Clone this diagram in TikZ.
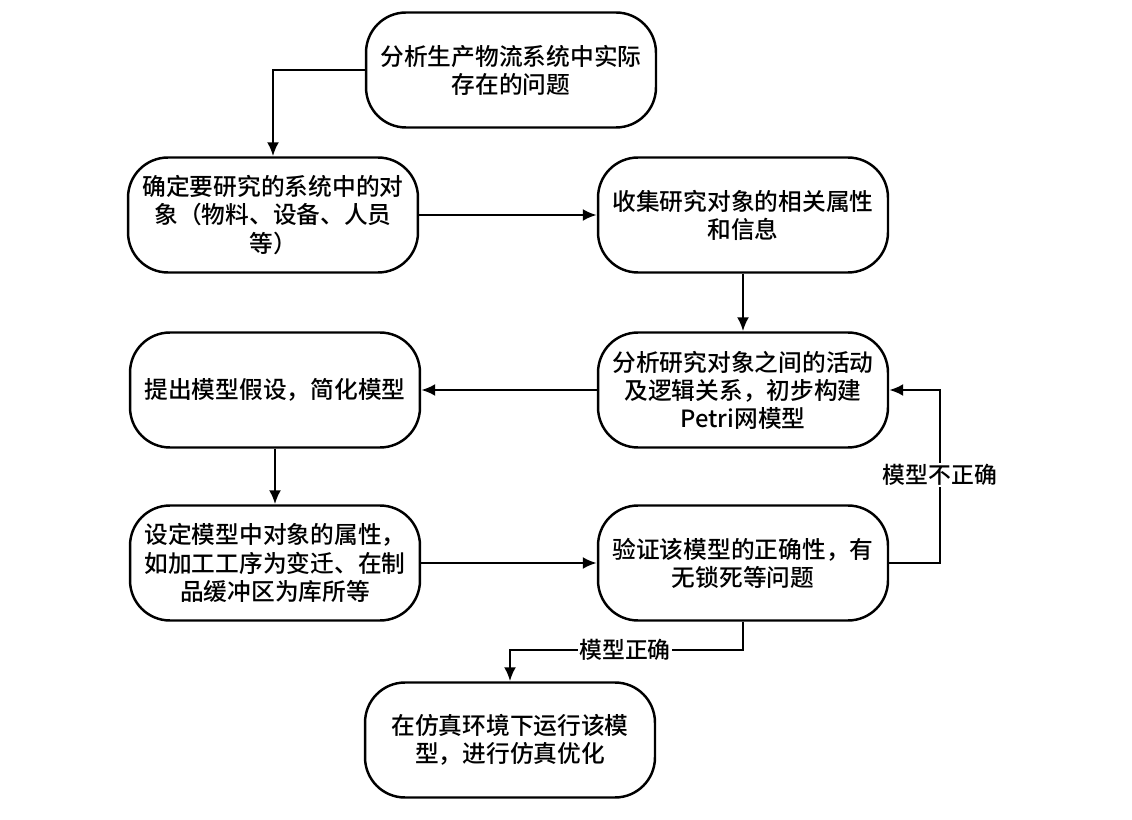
\documentclass[tikz,border=0pt]{standalone}
\usepackage{fontspec}
\setmainfont{Noto Sans CJK SC}[BoldFont={Noto Sans CJK SC Medium}]
\usetikzlibrary{arrows.meta}
\tikzset{
    box/.style={draw, line width=1.4pt, rounded corners=0.8cm, minimum width=5.8cm, minimum height=2.3cm, align=center, font=\fontsize{13.5}{16}\selectfont\bfseries},
    lbl/.style={fill=white, inner sep=1pt, font=\fontsize{13}{15}\selectfont\bfseries},
    link/.style={->, line width=1.4pt}
}
\begin{document}
\begin{tikzpicture}[>={Latex[length=2.8mm,width=2.4mm]}, x=0.02cm, y=-0.02cm]
    \useasboundingbox (0,0) rectangle (1132,820);
    \node[box] (p1) at (511,70) {分析生产物流系统中实际\\存在的问题};
    \node[box] (p2) at (273,215) {确定要研究的系统中的对\\象（物料、设备、人员\\等）};
    \node[box] (p3) at (743,215) {收集研究对象的相关属性\\和信息};
    \node[box] (p4) at (743,390) {分析研究对象之间的活动\\及逻辑关系，初步构建\\Petri网模型};
    \node[box] (p5) at (275,390) {提出模型假设，简化模型};
    \node[box] (p6) at (275,563) {设定模型中对象的属性，\\如加工工序为变迁、在制\\品缓冲区为库所等};
    \node[box] (p7) at (743,563) {验证该模型的正确性，有\\无锁死等问题};
    \node[box] (p8) at (510,740) {在仿真环境下运行该模\\型，进行仿真优化};
    \coordinate (back) at (940,475);
    \coordinate (ok) at (625,650);
\draw[link] (p1.west) -| (p2.north);
\draw[link] (p2.east) -- (p3.west);
\draw[link] (p3.south) -- (p4.north);
\draw[link] (p4.west) -- (p5.east);
\draw[link] (p5.south) -- (p6.north);
\draw[link] (p6.east) -- (p7.west);
\draw[link] (p7.east) -| (back) |- (p4.east);
\draw[link] (p7.south) |- (ok) -| (p8.north);
    \node[lbl] (wrong) at (back) {模型不正确};
    \node[lbl] (right) at (ok) {模型正确};
\end{tikzpicture}
\end{document}
